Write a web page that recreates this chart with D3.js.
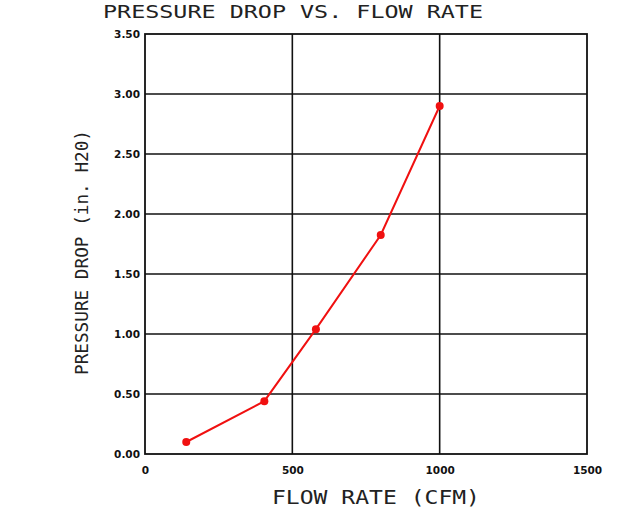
<!DOCTYPE html>
<html><head><meta charset="utf-8">
<script src="https://cdn.jsdelivr.net/npm/d3@7"></script>
<style>body{margin:0;background:#fff}</style>
</head><body>
<svg id="chart" width="621" height="508"></svg>
<script>
const flowRate = [140, 405, 580, 800, 1000];
const pressureDrop = [0.10, 0.44, 1.04, 1.825, 2.90];
const xTicks = [0, 500, 1000, 1500];
const yTicks = [0, 0.5, 1.0, 1.5, 2.0, 2.5, 3.0, 3.5];
const titleText = "PRESSURE DROP VS. FLOW RATE";
const xLabel = "FLOW RATE (CFM)";
const yLabel = "PRESSURE DROP (in. H20)";

const svg = d3.select("#chart");
const m = {l:145, r:34, t:34, b:54};
const W = 621, H = 508;
const x = d3.scaleLinear().domain([0,1500]).range([m.l, W - m.r]);
const y = d3.scaleLinear().domain([0,3.5]).range([H - m.b, m.t]);

// grid
const g = svg.append("g");
g.selectAll(".gx").data(xTicks.slice(1,-1)).join("line")
  .attr("x1", d=>x(d)).attr("x2", d=>x(d)).attr("y1", y(0)).attr("y2", y(3.5))
  .attr("stroke", "#111").attr("stroke-width", 1.6);
g.selectAll(".gy").data(yTicks.slice(1,-1)).join("line")
  .attr("y1", d=>y(d)).attr("y2", d=>y(d)).attr("x1", x(0)).attr("x2", x(1500))
  .attr("stroke", "#111").attr("stroke-width", 1.6);
g.append("rect").attr("x", x(0)).attr("y", y(3.5))
  .attr("width", x(1500)-x(0)).attr("height", y(0)-y(3.5))
  .attr("fill", "none").attr("stroke", "#111").attr("stroke-width", 1.8);

// axes labels via d3 axes
const xAxis = svg.append("g").attr("transform", `translate(0,${y(0)})`)
  .call(d3.axisBottom(x).tickValues(xTicks).tickSize(0).tickPadding(13).tickFormat(d3.format("d")));
const yAxis = svg.append("g").attr("transform", `translate(${x(0)},0)`)
  .call(d3.axisLeft(y).tickValues(yTicks).tickSize(0).tickPadding(5).tickFormat(d3.format(".2f")));
[xAxis, yAxis].forEach(a => {
  a.select(".domain").remove();
  a.selectAll("text").attr("font-family", "DejaVu Sans, Verdana, sans-serif")
    .attr("font-weight", "bold").attr("font-size", 10.5).attr("fill", "#111");
});

// line
const line = d3.line().x((d,i)=>x(flowRate[i])).y(d=>y(d));
svg.append("path").datum(pressureDrop).attr("d", line)
  .attr("fill", "none").attr("stroke", "#f01010").attr("stroke-width", 2);
svg.selectAll(".pt").data(pressureDrop).join("circle")
  .attr("cx", (d,i)=>x(flowRate[i])).attr("cy", d=>y(d)).attr("r", 4)
  .attr("fill", "#f01010");

// titles
const cadFont = "DejaVu Sans Mono, monospace";
svg.append("text").attr("x", 103).attr("y", 17.5).attr("font-family", cadFont)
  .attr("font-size", 18).attr("fill", "#222").attr("textLength", 380).attr("lengthAdjust", "spacingAndGlyphs")
  .text(titleText);
svg.append("text").attr("x", 272).attr("y", 504).attr("font-family", cadFont)
  .attr("font-size", 20).attr("fill", "#222").attr("textLength", 208).attr("lengthAdjust", "spacingAndGlyphs")
  .text(xLabel);
svg.append("text").attr("transform", "translate(88,375) rotate(-90)").attr("font-family", cadFont)
  .attr("font-size", 17).attr("fill", "#222").attr("textLength", 245).attr("lengthAdjust", "spacingAndGlyphs")
  .text(yLabel);
</script>
</body></html>
